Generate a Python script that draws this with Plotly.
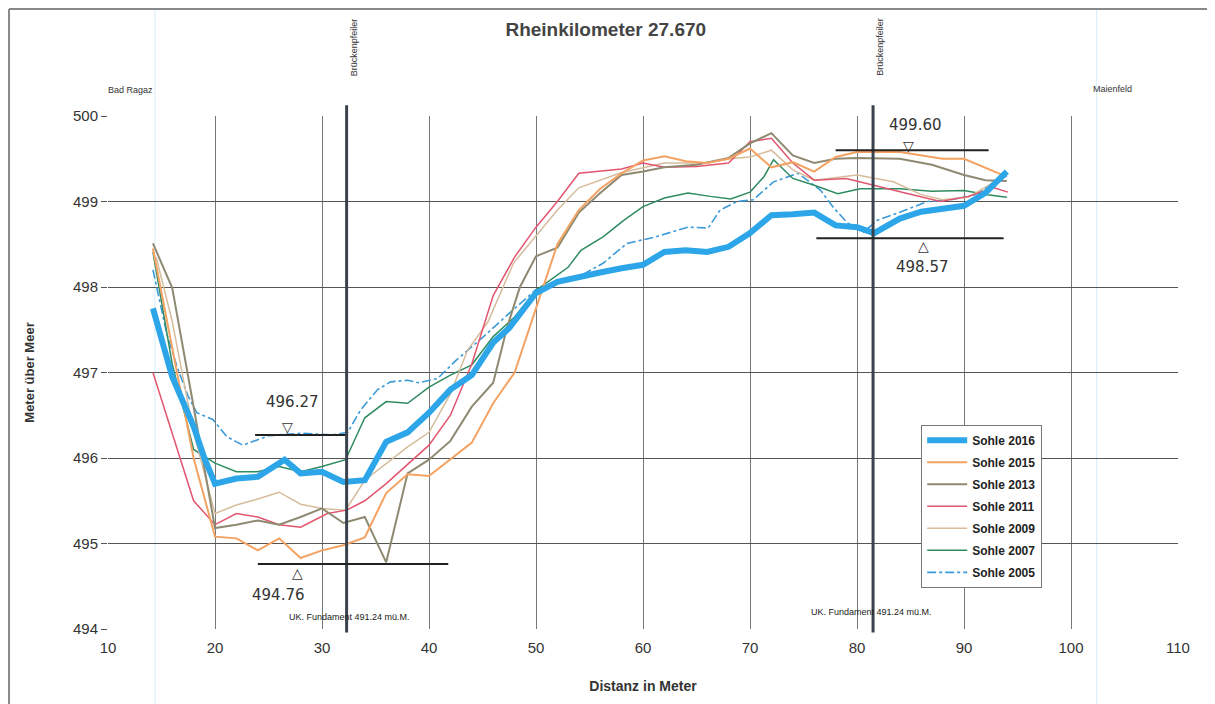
import plotly.graph_objects as go

# ---------------- data ----------------
x2016 = [14.2, 16, 18, 19, 20, 22, 24, 26.5, 28, 30, 32, 34, 36, 38, 40, 42, 44, 46, 47.5, 50, 52, 54, 56, 58, 60, 62, 64, 66, 68, 70, 72, 74, 76, 78, 80, 81.6, 84, 86, 88, 90, 92, 94]
y2016 = [497.75, 496.95, 496.37, 496.0, 495.7, 495.76, 495.78, 495.98, 495.82, 495.84, 495.72, 495.74, 496.19, 496.3, 496.53, 496.8, 496.97, 497.35, 497.52, 497.93, 498.06, 498.12, 498.17, 498.22, 498.26, 498.41, 498.43, 498.41, 498.47, 498.63, 498.84, 498.85, 498.87, 498.72, 498.7, 498.63, 498.8, 498.88, 498.91, 498.95, 499.1, 499.35]

x2015 = [14.2, 16, 18, 20, 22, 24, 26, 28, 30, 32, 34, 36, 38, 40, 42, 44, 46, 48, 50, 52, 54, 56, 58, 60, 62, 64, 66, 68, 70, 72, 74, 76, 78, 80, 84, 88, 90, 93.8]
y2015 = [498.45, 497.3, 496.0, 495.08, 495.06, 494.92, 495.06, 494.83, 494.92, 494.98, 495.07, 495.59, 495.81, 495.79, 495.98, 496.18, 496.64, 497.0, 497.75, 498.5, 498.9, 499.15, 499.33, 499.48, 499.53, 499.47, 499.45, 499.5, 499.62, 499.4, 499.46, 499.35, 499.52, 499.58, 499.58, 499.5, 499.5, 499.3]

x2013 = [14.2, 16, 18, 20, 22, 24, 26, 28, 30, 32, 34, 36, 38, 40, 42, 44, 46, 47.3, 48.5, 50, 52, 54, 56, 58, 60, 62, 65, 68, 70, 72, 74, 76, 78, 80, 84, 87, 90, 92, 94]
y2013 = [498.51, 497.99, 496.6, 495.18, 495.22, 495.27, 495.22, 495.31, 495.41, 495.24, 495.31, 494.78, 495.82, 495.98, 496.2, 496.6, 496.88, 497.53, 498.0, 498.36, 498.46, 498.87, 499.1, 499.31, 499.35, 499.4, 499.43, 499.51, 499.68, 499.8, 499.54, 499.45, 499.5, 499.51, 499.5, 499.43, 499.31, 499.25, 499.24]

x2011 = [14.2, 18, 20, 22, 24, 26, 28, 30.5, 32.3, 34, 36, 38, 40, 42, 44, 46, 48, 50, 52, 54, 58, 60, 62, 65, 68, 70, 72, 74, 76, 79, 81.5, 84.5, 87.8, 90.4, 92.8, 94.1]
y2011 = [497.0, 495.5, 495.22, 495.35, 495.31, 495.22, 495.19, 495.35, 495.39, 495.5, 495.7, 495.92, 496.15, 496.5, 497.1, 497.9, 498.35, 498.7, 499.0, 499.33, 499.38, 499.45, 499.4, 499.41, 499.45, 499.7, 499.74, 499.45, 499.25, 499.27, 499.19, 499.1, 499.0, 499.06, 499.16, 499.11]

x2009 = [14.5, 16, 18, 20, 22, 24, 26, 28, 30, 32.2, 34, 36, 38, 40, 42, 43.6, 45.5, 47.9, 50, 52, 54, 58, 62, 66, 68, 70, 72, 74, 76, 80, 83.4, 86, 88, 90.4, 93.4]
y2009 = [498.35, 497.6, 496.3, 495.35, 495.45, 495.52, 495.6, 495.46, 495.41, 495.39, 495.74, 495.94, 496.13, 496.3, 496.75, 497.26, 497.59, 498.28, 498.6, 498.9, 499.16, 499.34, 499.45, 499.45, 499.5, 499.52, 499.6, 499.37, 499.25, 499.31, 499.23, 499.08, 499.02, 499.05, 499.27]

x2007 = [14.2, 16, 18, 20, 22, 24, 26, 28, 30, 32.2, 34, 36, 38, 40, 42, 44, 46, 48, 50, 53, 54.2, 56.3, 58.2, 60, 62, 64.2, 66.3, 68.2, 70, 71.3, 72.2, 74, 76, 78.2, 80.3, 84, 87, 90, 92.2, 94]
y2007 = [498.41, 497.1, 496.1, 495.94, 495.84, 495.84, 495.9, 495.84, 495.9, 495.98, 496.47, 496.66, 496.64, 496.83, 496.97, 497.09, 497.42, 497.65, 497.96, 498.23, 498.43, 498.59, 498.78, 498.94, 499.04, 499.1, 499.06, 499.03, 499.11, 499.29, 499.49, 499.27, 499.19, 499.09, 499.15, 499.15, 499.12, 499.13, 499.08, 499.05]

x2005 = [14.2, 15.5, 16.5, 17.5, 18.3, 19.8, 21.1, 22.6, 25, 28, 31, 32.4, 33.6, 35.2, 36.4, 38, 39, 40.8, 42.6, 45.1, 47.3, 50, 54, 56.3, 58.5, 61, 64.2, 66.1, 67.2, 68.8, 70.3, 72.2, 74.5, 76.6, 77.8, 79.1, 80.6, 81.9, 84.1, 86.6, 88.8, 91, 94]
y2005 = [498.2, 497.45, 497.05, 496.72, 496.53, 496.45, 496.25, 496.15, 496.26, 496.29, 496.27, 496.3, 496.56, 496.8, 496.89, 496.91, 496.88, 496.93, 497.15, 497.42, 497.67, 497.97, 498.12, 498.28, 498.51, 498.58, 498.7, 498.69, 498.9, 499.0, 499.02, 499.23, 499.33, 499.13, 498.93, 498.75, 498.64, 498.78, 498.88, 499.0, 499.02, 499.08, 499.3]

pillar_x = [32.3, 81.5]
pillar_label = "Brückenpfeiler"
fundament_label = "UK. Fundament 491.24 mü.M."

# handwritten marks: value, line x-start, line x-end, marker
mark_values = [496.27, 494.76, 499.60, 498.57]
mark_labels = ["496.27", "494.76", "499.60", "498.57"]
mark_x0 = [23.75, 24.0, 78.0, 76.2]
mark_x1 = [32.2, 41.8, 92.3, 93.7]
mark_sym = ["▽", "△", "▽", "△"]

x_ticks = [10, 20, 30, 40, 50, 60, 70, 80, 90, 100, 110]
y_ticks = [494, 495, 496, 497, 498, 499, 500]

FONT = "Liberation Sans, Arial, sans-serif"

fig = go.Figure()

# drawn bottom-to-top; legend rank puts 2016 first
series = [
    ("Sohle 2005", x2005, y2005, "#3b9ad8", 1.6, "dashdot", 7),
    ("Sohle 2007", x2007, y2007, "#2e8b60", 1.5, "solid", 6),
    ("Sohle 2009", x2009, y2009, "#d6bc9c", 1.5, "solid", 5),
    ("Sohle 2011", x2011, y2011, "#e2556f", 1.5, "solid", 4),
    ("Sohle 2013", x2013, y2013, "#8e8a72", 2.0, "solid", 3),
    ("Sohle 2015", x2015, y2015, "#f4a262", 2.0, "solid", 2),
    ("Sohle 2016", x2016, y2016, "#2ca6e8", 6, "solid", 1),
]
for name, xs, ys, col, w, dash, rank in series:
    fig.add_trace(go.Scatter(x=xs, y=ys, mode="lines", name=name, legendgroup=name,
                             legendrank=rank,
                             line=dict(color=col, width=w, dash=dash)))

shapes = []
for px in pillar_x:
    shapes.append(dict(type="line", xref="x", yref="paper", x0=px, x1=px,
                       y0=-0.007, y1=1.021, line=dict(color="#3a434d", width=3)))
for v, a, b in zip(mark_values, mark_x0, mark_x1):
    shapes.append(dict(type="line", xref="x", yref="y", x0=a, x1=b, y0=v, y1=v,
                       line=dict(color="#222", width=2)))
# scan border
shapes.append(dict(type="line", xref="paper", yref="paper", x0=-0.0925, x1=1.05,
                   y0=1.2086, y1=1.2086, line=dict(color="#888", width=2)))
shapes.append(dict(type="line", xref="paper", yref="paper", x0=-0.0925, x1=-0.0925,
                   y0=-0.17, y1=1.2086, line=dict(color="#888", width=2)))
for sx in [0.0439, 0.924]:
    shapes.append(dict(type="line", xref="paper", yref="paper", x0=sx, x1=sx,
                       y0=-0.17, y1=1.2086, line=dict(color="#d4eef8", width=1), layer="below"))

ann = []
ann.append(dict(text="Bad Ragaz", xref="x", yref="paper", x=12.1, y=1.0507, yanchor="middle",
                showarrow=False, font=dict(size=9, color="#333", family=FONT)))
ann.append(dict(text="Maienfeld", xref="x", yref="paper", x=103.9, y=1.0527, yanchor="middle",
                showarrow=False, font=dict(size=9, color="#333", family=FONT)))
for px in pillar_x:
    ann.append(dict(text=pillar_label, xref="x", yref="paper", x=px + 0.7, y=1.134,
                    yanchor="middle", textangle=-90, showarrow=False,
                    font=dict(size=9, color="#333", family=FONT)))
ann.append(dict(text=fundament_label, xref="x", yref="y", x=32.6, y=494.14,
                showarrow=False, font=dict(size=9, color="#222", family=FONT)))
ann.append(dict(text=fundament_label, xref="x", yref="y", x=81.4, y=494.2,
                showarrow=False, font=dict(size=9, color="#222", family=FONT)))

hand_txt_pos = [(27.2, 496.66), (25.9, 494.40), (85.5, 499.90), (86.1, 498.23)]
hand_sym_pos = [(26.8, 496.36), (27.7, 494.65), (84.8, 499.65), (86.2, 498.48)]
for lab, sym, (tx, ty), (sx, sy) in zip(mark_labels, mark_sym, hand_txt_pos, hand_sym_pos):
    ann.append(dict(text=lab, xref="x", yref="y", x=tx, y=ty, showarrow=False,
                    font=dict(size=15, color="#333", family="DejaVu Sans, sans-serif")))
    ann.append(dict(text=sym, xref="x", yref="y", x=sx, y=sy, showarrow=False,
                    font=dict(size=14, color="#333", family="DejaVu Sans, sans-serif")))

fig.update_layout(
    width=1215, height=704,
    margin=dict(l=100, r=45, t=108, b=83),
    paper_bgcolor="white", plot_bgcolor="white",
    title=dict(text="<b>Rheinkilometer 27.670</b>", x=0.492, xanchor="center",
               y=0.969, yanchor="middle",
               font=dict(size=19, color="#444", family=FONT)),
    xaxis=dict(range=[10, 110], tickvals=x_ticks, ticktext=[str(t) for t in x_ticks],
               showgrid=True, gridcolor="#777", gridwidth=1,
               showline=False, zeroline=False, ticks="", ticklabelstandoff=8,
               tickfont=dict(size=15, color="#333", family=FONT),
               title=dict(text="<b>Distanz in Meter</b>", standoff=26,
                          font=dict(size=14, color="#333", family=FONT))),
    yaxis=dict(range=[494, 500], tickvals=y_ticks, ticktext=[str(t) for t in y_ticks],
               showgrid=True, gridcolor="#555", gridwidth=1,
               showline=False, zeroline=False, ticks="outside", ticklen=6, tickcolor="#555",
               tickfont=dict(size=15, color="#333", family=FONT),
               title=dict(text="<b>Meter über Meer</b>", standoff=35,
                          font=dict(size=13, color="#333", family=FONT))),
    legend=dict(x=0.760, y=0.398, xanchor="left", yanchor="top",
                traceorder="grouped", bgcolor="white",
                bordercolor="#777", borderwidth=1,
                font=dict(size=12, color="#222", family=FONT, weight="bold"),
                itemwidth=40, tracegroupgap=3),
    shapes=shapes, annotations=ann,
    showlegend=True,
)

fig.write_html("out.html")
